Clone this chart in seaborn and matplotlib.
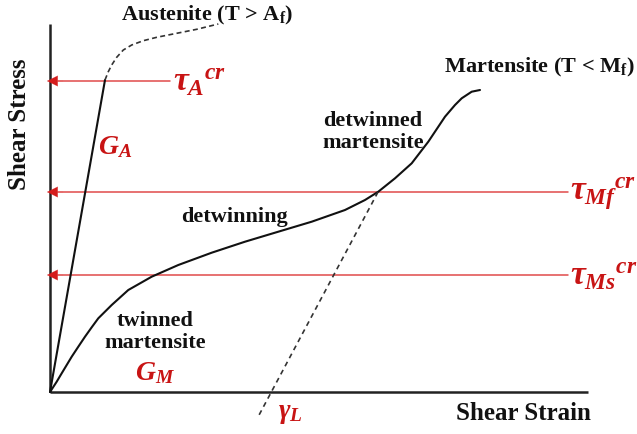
import matplotlib
matplotlib.use("Agg")
import matplotlib.pyplot as plt
import seaborn as sns

sns.set_theme(style="white")
plt.rcParams["font.family"] = ["Liberation Serif", "DejaVu Serif"]
plt.rcParams["font.weight"] = "bold"
plt.rcParams["mathtext.fontset"] = "custom"
plt.rcParams["mathtext.it"] = "Liberation Serif:italic:bold"
plt.rcParams["mathtext.rm"] = "Liberation Serif:bold"
plt.rcParams["mathtext.bf"] = "Liberation Serif:bold"

# Martensite (T < Mf) loading curve: twinned -> detwinning -> detwinned
mart_strain = [0.00, 0.067, 0.117, 0.217, 0.283, 0.35, 0.417, 0.483, 0.617,
               0.783, 1.017, 1.283, 1.617, 1.95, 2.283, 2.617, 2.95, 3.15,
               3.283, 3.45, 3.617, 3.783, 3.95, 4.05, 4.117, 4.217, 4.30]
mart_stress = [0.00, 0.103, 0.187, 0.353, 0.453, 0.553, 0.647, 0.737, 0.87,
               1.02, 1.153, 1.27, 1.393, 1.503, 1.603, 1.703, 1.82, 1.92,
               2.003, 2.137, 2.287, 2.503, 2.753, 2.87, 2.937, 3.003, 3.02]

# Austenite (T > Af): elastic branch and its dashed continuation
aus_strain = [0.00, 0.55]
aus_stress = [0.00, 3.12]
aus_cont_strain = [0.55, 0.583, 0.617, 0.667, 0.733, 0.817, 0.933, 1.067,
                   1.267, 1.467, 1.683]
aus_cont_stress = [3.12, 3.203, 3.27, 3.347, 3.42, 3.47, 3.513, 3.547,
                   3.587, 3.627, 3.68]

# Elastic unloading from the end of detwinning, down past the residual strain
unload_strain = [3.28, 2.08]
unload_stress = [2.00, -0.25]

# Critical stress levels
tau_levels = [3.11, 2.00, 1.17]
tau_ends = [1.20, 5.18, 5.18]
tau_labels = [r"$\tau_{A}{}^{cr}$", r"$\tau_{Mf}{}^{cr}$", r"$\tau_{Ms}{}^{cr}$"]
tau_label_x = [1.23, 5.20, 5.20]

strain_max = 5.38
stress_max = 3.68

RED_LINE = "#e04a4a"
RED_TXT = "#c81414"
BLACK = "#111111"

fig = plt.figure(figsize=(6.37, 4.34), dpi=100)
ax = fig.add_axes([0, 0, 1, 1])
ax.set_xlim(-0.50, 5.87)
ax.set_ylim(-0.42, 3.92)
ax.axis("off")

# axes lines
ax.plot([0, strain_max], [0, 0], color="#222222", lw=1.8, solid_capstyle="butt")
ax.plot([0, 0], [0, stress_max], color="#222222", lw=1.8, solid_capstyle="butt")

# critical stress arrows
for lvl, end, lab, lx in zip(tau_levels, tau_ends, tau_labels, tau_label_x):
    ax.plot([0.08, end], [lvl, lvl], color=RED_LINE, lw=1.1)
    ax.annotate("", xy=(-0.03, lvl), xytext=(0.13, lvl),
                arrowprops=dict(arrowstyle="-|>", color="#d41c1c", lw=0.1,
                                mutation_scale=19, shrinkA=0, shrinkB=0))
    ax.text(lx, lvl - 0.02, lab, color=RED_TXT, fontsize=24, ha="left",
            va="center")

sns.lineplot(x=mart_strain, y=mart_stress, sort=False, estimator=None,
             color=BLACK, lw=1.5, ax=ax)
sns.lineplot(x=aus_strain, y=aus_stress, sort=False, estimator=None,
             color=BLACK, lw=1.5, ax=ax)
sns.lineplot(x=aus_cont_strain, y=aus_cont_stress, sort=False, estimator=None,
             color="#333333", lw=1.2, ax=ax, linestyle=(0, (3, 2)))
sns.lineplot(x=unload_strain, y=unload_stress, sort=False, estimator=None,
             color="#333333", lw=1.2, ax=ax, linestyle=(0, (3, 2.5)))

# annotations
ax.text(1.57, 3.77, r"Austenite (T > A$_{\mathbf{f}}$)", fontsize=16,
        ha="center", va="center", color=BLACK)
ax.text(4.89, 3.25, r"Martensite (T < M$_{\mathbf{f}}$)", fontsize=16,
        ha="center", va="center", color=BLACK)
ax.text(3.23, 2.60, "detwinned\nmartensite", fontsize=16, ha="center",
        va="center", color=BLACK, linespacing=1.1)
ax.text(1.84, 1.75, "detwinning", fontsize=16, ha="center", va="center",
        color=BLACK)
ax.text(1.05, 0.60, "twinned\nmartensite", fontsize=16, ha="center",
        va="center", color=BLACK, linespacing=1.1)
ax.text(1.05, 0.19, r"$G_{M}$", fontsize=20, ha="center", va="center",
        color=RED_TXT)
ax.text(0.65, 2.45, r"$G_{A}$", fontsize=20, ha="center", va="center",
        color=RED_TXT)
ax.text(2.40, -0.21, r"$\gamma_{L}$", fontsize=20, ha="center", va="center",
        color=RED_TXT)
ax.text(4.73, -0.21, "Shear Strain", fontsize=18, ha="center", va="center",
        color=BLACK)
ax.text(-0.30, 2.68, "Shear Stress", fontsize=18, ha="center", va="center",
        rotation=90, color=BLACK)

fig.savefig("out.png", dpi=100)
